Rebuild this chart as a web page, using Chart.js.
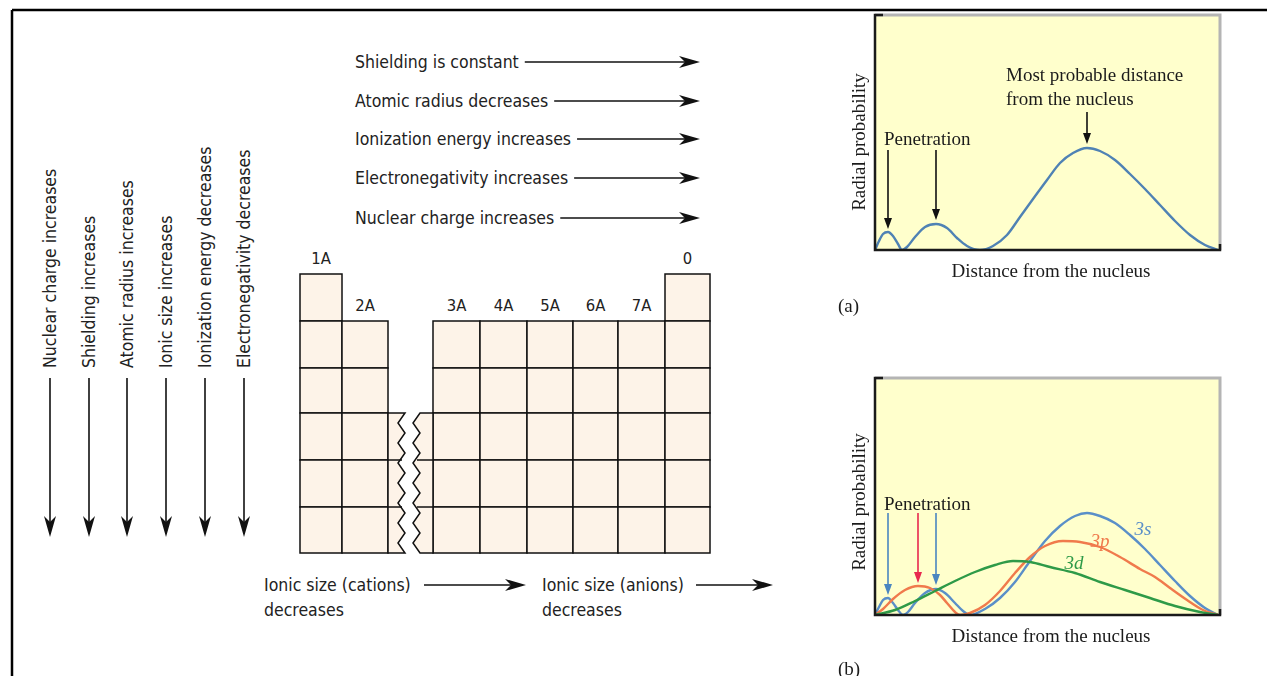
<!DOCTYPE html>
<html lang="en">
<head>
<meta charset="UTF-8" />
<title>Periodic trends and radial probability</title>
<script src="https://cdn.jsdelivr.net/npm/chart.js@4"></script>
<style>
  html, body { margin: 0; padding: 0; background: #fff; }
  #page { position: relative; width: 1267px; height: 676px; overflow: hidden; }
  #diagram { position: absolute; left: 0; top: 0; }
  canvas { position: absolute; }
  .t { position: absolute; font-family: "Liberation Serif", "Times New Roman", serif; font-size: 19px;
       color: #1b1b1b; line-height: 1; white-space: nowrap; transform: translateY(-50%); }
  .c { transform: translate(-50%, -50%); }
  .rot { transform: translate(-50%, -50%) rotate(-90deg); }
  .orb { font-style: italic; }
</style>
</head>
<body>
<div id="page">
  <svg id="diagram" width="1267" height="676" xmlns="http://www.w3.org/2000/svg"></svg>

  <canvas id="chartA" width="420" height="320" style="left:830px; top:0px;"></canvas>
  <canvas id="chartB" width="420" height="300" style="left:830px; top:360px;"></canvas>

  <!-- (a) texts -->
  <div class="t rot" style="left:858px; top:142px;">Radial probability</div>
  <div class="t" style="left:1006px; top:74px;">Most probable distance</div>
  <div class="t" style="left:1006px; top:98px;">from the nucleus</div>
  <div class="t" style="left:884px; top:138px;">Penetration</div>
  <div class="t c" style="left:1051px; top:270px;">Distance from the nucleus</div>
  <div class="t" style="left:838px; top:305px;">(a)</div>

  <!-- (b) texts -->
  <div class="t rot" style="left:858px; top:502px;">Radial probability</div>
  <div class="t" style="left:884px; top:503px;">Penetration</div>
  <div class="t c orb" style="left:1143px; top:528px; color:#5a8fc8;">3s</div>
  <div class="t c orb" style="left:1100px; top:540px; color:#f07a4c;">3p</div>
  <div class="t c orb" style="left:1074px; top:562px; color:#2e9a48;">3d</div>
  <div class="t c" style="left:1051px; top:635px;">Distance from the nucleus</div>
  <div class="t" style="left:838px; top:668px;">(b)</div>
</div>

<script>
  // ---- data (distance in px-like units, 0..345) ----
  const curveA_x = [0, 4, 8, 13, 18, 23, 27, 32, 40, 50, 61, 72, 82, 92, 105, 118, 132, 145, 158, 172, 185, 198, 212, 225, 240, 255, 270, 285, 300, 315, 330, 343];
  const curveA_y = [0, 9, 16, 18, 14, 6, 0, 3, 13, 23, 26, 22, 12, 4, 0, 4, 15, 33, 51, 70, 87, 97, 102, 99, 90, 76, 61, 45, 29, 15, 5, 0];

  const s3_x = [0, 4, 8, 13, 18, 23, 28, 33, 40, 50, 61, 70, 80, 88, 95, 110, 125, 140, 155, 170, 185, 200, 212, 225, 240, 255, 270, 285, 300, 315, 330, 343];
  const s3_y = [0, 8, 15, 17, 12, 5, 0, 3, 12, 22, 26, 22, 12, 4, 0, 6, 17, 33, 54, 74, 89, 99, 102, 99, 92, 80, 66, 50, 34, 19, 7, 0];

  const p3_x = [0, 8, 18, 30, 43, 55, 65, 72, 80, 85, 95, 110, 125, 140, 155, 170, 188, 205, 225, 245, 265, 280, 295, 312, 328, 343];
  const p3_y = [0, 6, 16, 25, 29, 27, 20, 12, 3, 0, 2, 10, 24, 42, 58, 69, 74, 73, 68, 58, 46, 38, 27, 15, 5, 0];

  const d3_x = [0, 20, 40, 60, 80, 100, 120, 138, 155, 175, 200, 225, 250, 275, 300, 325, 343];
  const d3_y = [0, 5, 14, 24, 34, 43, 50, 54, 53, 48, 42, 33, 25, 17, 9, 3, 0];

  // arrows: x position, tail value, tip value
  const arrowsA = [[13, 100, 21], [61, 100, 30], [212, 138, 106]];
  const arrowsB = [[13, 102, 20], [43, 102, 32], [61, 102, 30]];
  const arrowsB_colors = ['#4a86c0', '#e8294f', '#4a86c0'];

  // ---- left diagram labels ----
  const downLabels = ['Nuclear charge increases', 'Shielding increases', 'Atomic radius increases',
                      'Ionic size increases', 'Ionization energy decreases', 'Electronegativity decreases'];
  const downX = [50, 89, 127, 166, 205, 244];
  const rightLabels = ['Shielding is constant', 'Atomic radius decreases', 'Ionization energy increases',
                       'Electronegativity increases', 'Nuclear charge increases'];
  const rightY = [62, 101, 139, 178, 218];
  const groups = ['1A', '2A', '3A', '4A', '5A', '6A', '7A', '0'];
  const groupLeft = [300, 342, 433, 480, 527, 573, 618, 665];
  const groupRight = [342, 388, 480, 527, 573, 618, 665, 710];
  const groupFirstRow = [0, 1, 1, 1, 1, 1, 1, 0];
  const rowEdges = [274, 321, 368, 413, 460, 507, 553];

  const NS = 'http://www.w3.org/2000/svg';
  const svg = document.getElementById('diagram');
  const FONT = '"Liberation Sans Narrow", "Arial Narrow", "DejaVu Sans Condensed", sans-serif';

  function el(tag, attrs, text) {
    const e = document.createElementNS(NS, tag);
    for (const k in attrs) e.setAttribute(k, attrs[k]);
    if (text) e.textContent = text;
    svg.appendChild(e);
    return e;
  }

  // outer frame
  el('line', { x1: 12, y1: 10, x2: 1267, y2: 10, stroke: '#000', 'stroke-width': 2.5 });
  el('line', { x1: 12, y1: 10, x2: 12, y2: 676, stroke: '#000', 'stroke-width': 2.5 });

  // vertical trend arrows
  downLabels.forEach((lab, i) => {
    const x = downX[i];
    el('text', { x: x, y: 368, transform: `rotate(-90 ${x} 368)`, 'dominant-baseline': 'central',
                 'font-family': FONT, 'font-size': 17.5, fill: '#222' }, lab);
    el('line', { x1: x, y1: 378, x2: x, y2: 528, stroke: '#111', 'stroke-width': 1.6 });
    el('path', { d: `M${x} 537 L${x - 6} 516 L${x} 522 L${x + 6} 516 Z`, fill: '#111' });
  });

  function rightArrow(x1, tip, y) {
    el('line', { x1: x1, y1: y, x2: tip - 8, y2: y, stroke: '#111', 'stroke-width': 1.6 });
    el('path', { d: `M${tip} ${y} L${tip - 21} ${y - 6} L${tip - 15} ${y} L${tip - 21} ${y + 6} Z`, fill: '#111' });
  }

  // horizontal trend arrows
  rightLabels.forEach((lab, i) => {
    const t = el('text', { x: 355, y: rightY[i], 'dominant-baseline': 'central',
                           'font-family': FONT, 'font-size': 17.5, fill: '#222' }, lab);
    const end = 355 + t.getComputedTextLength();
    rightArrow(end + 6, 700, rightY[i]);
  });

  // periodic table cells
  groups.forEach((g, i) => {
    for (let r = groupFirstRow[i]; r < rowEdges.length - 1; r++) {
      el('rect', { x: groupLeft[i], y: rowEdges[r], width: groupRight[i] - groupLeft[i],
                   height: rowEdges[r + 1] - rowEdges[r], fill: '#fdf3e8', stroke: '#111', 'stroke-width': 1.5 });
    }
    el('text', { x: (groupLeft[i] + groupRight[i]) / 2, y: rowEdges[groupFirstRow[i]] - 16,
                 'text-anchor': 'middle', 'dominant-baseline': 'central',
                 'font-family': FONT, 'font-size': 16.5, fill: '#222' }, g);
  });

  // broken transition-metal stubs (zigzag edges)
  function zig(xa, xb, y0, y1) {
    const pts = [];
    let k = 0;
    for (let y = y0; y <= y1; y += 10) { pts.push([k % 2 ? xb : xa, y]); k++; }
    pts.push([xa, y1]);
    return pts;
  }
  const leftZig = zig(405, 398, 413, 553);
  const rightZig = zig(420, 413, 413, 553);
  el('path', { d: 'M388 413 ' + leftZig.map(p => 'L' + p[0] + ' ' + p[1]).join(' ') + ' L388 553 Z',
               fill: '#fdf3e8', stroke: '#111', 'stroke-width': 1.5 });
  el('path', { d: 'M433 413 ' + rightZig.map(p => 'L' + p[0] + ' ' + p[1]).join(' ') + ' L433 553 Z',
               fill: '#fdf3e8', stroke: '#111', 'stroke-width': 1.5 });
  [460, 507].forEach(y => {
    el('line', { x1: 388, y1: y, x2: 402, y2: y, stroke: '#111', 'stroke-width': 1.5 });
    el('line', { x1: 417, y1: y, x2: 433, y2: y, stroke: '#111', 'stroke-width': 1.5 });
  });

  // ionic size labels
  [[264, 'Ionic size (cations)', 424, 526], [542, 'Ionic size (anions)', 696, 773]].forEach(d => {
    el('text', { x: d[0], y: 585, 'dominant-baseline': 'central', 'font-family': FONT, 'font-size': 17.5, fill: '#222' }, d[1]);
    el('text', { x: d[0], y: 610, 'dominant-baseline': 'central', 'font-family': FONT, 'font-size': 17.5, fill: '#222' }, 'decreases');
    rightArrow(d[2], d[3], 585);
  });

  // ---- Chart.js radial probability plots ----
  function pairs(xs, ys) { return xs.map((x, i) => ({ x: x, y: ys[i] })); }

  function drawVArrow(ctx, x, y0, y1, color) {
    ctx.save();
    ctx.strokeStyle = color; ctx.fillStyle = color; ctx.lineWidth = 1.6;
    ctx.beginPath(); ctx.moveTo(x, y0); ctx.lineTo(x, y1 - 8); ctx.stroke();
    ctx.beginPath(); ctx.moveTo(x, y1); ctx.lineTo(x - 4, y1 - 11); ctx.lineTo(x + 4, y1 - 11); ctx.closePath(); ctx.fill();
    ctx.restore();
  }

  const framePlugin = {
    id: 'frame',
    beforeDraw(chart) {
      const a = chart.chartArea, ctx = chart.ctx;
      ctx.save();
      ctx.fillStyle = '#ffffcc';
      ctx.fillRect(a.left, a.top, a.right - a.left, a.bottom - a.top);
      ctx.restore();
    },
    afterDatasetsDraw(chart, args, opts) {
      const ctx = chart.ctx, xs = chart.scales.x, ys = chart.scales.y;
      (opts.arrows || []).forEach((ar, i) => {
        drawVArrow(ctx, xs.getPixelForValue(ar[0]), ys.getPixelForValue(ar[1]), ys.getPixelForValue(ar[2]),
                   opts.colors ? opts.colors[i] : '#111');
      });
    },
    afterDraw(chart) {
      const a = chart.chartArea, ctx = chart.ctx;
      ctx.save();
      ctx.strokeStyle = '#b4b4b4'; ctx.lineWidth = 3;
      ctx.beginPath(); ctx.moveTo(a.left, a.top); ctx.lineTo(a.right, a.top); ctx.lineTo(a.right, a.bottom); ctx.stroke();
      ctx.strokeStyle = '#1a1a1a'; ctx.lineWidth = 2.5;
      ctx.beginPath(); ctx.moveTo(a.left + 8, a.top); ctx.lineTo(a.left, a.top); ctx.lineTo(a.left, a.bottom);
      ctx.lineTo(a.right, a.bottom); ctx.lineTo(a.right, a.bottom - 6); ctx.stroke();
      ctx.restore();
    }
  };

  function makeChart(id, datasets, yMax, padding, arrows, colors) {
    return new Chart(document.getElementById(id), {
      type: 'line',
      data: { datasets: datasets },
      options: {
        responsive: false,
        animation: false,
        layout: { padding: padding },
        scales: {
          x: { type: 'linear', min: 0, max: 345, display: false },
          y: { min: 0, max: yMax, display: false }
        },
        elements: { point: { radius: 0 }, line: { borderWidth: 2.4, cubicInterpolationMode: 'monotone' } },
        plugins: {
          legend: { display: false },
          tooltip: { enabled: false },
          frame: { arrows: arrows, colors: colors }
        }
      },
      plugins: [framePlugin]
    });
  }

  makeChart('chartA',
    [{ data: pairs(curveA_x, curveA_y), borderColor: '#4f82b4', fill: false }],
    235, { left: 45, top: 15, right: 30, bottom: 70 }, arrowsA, null);

  makeChart('chartB',
    [
      { data: pairs(d3_x, d3_y), borderColor: '#2e9a48', fill: false },
      { data: pairs(p3_x, p3_y), borderColor: '#f07a4c', fill: false },
      { data: pairs(s3_x, s3_y), borderColor: '#5a8fc8', fill: false }
    ],
    237, { left: 45, top: 18, right: 30, bottom: 45 }, arrowsB, arrowsB_colors);
</script>
</body>
</html>
